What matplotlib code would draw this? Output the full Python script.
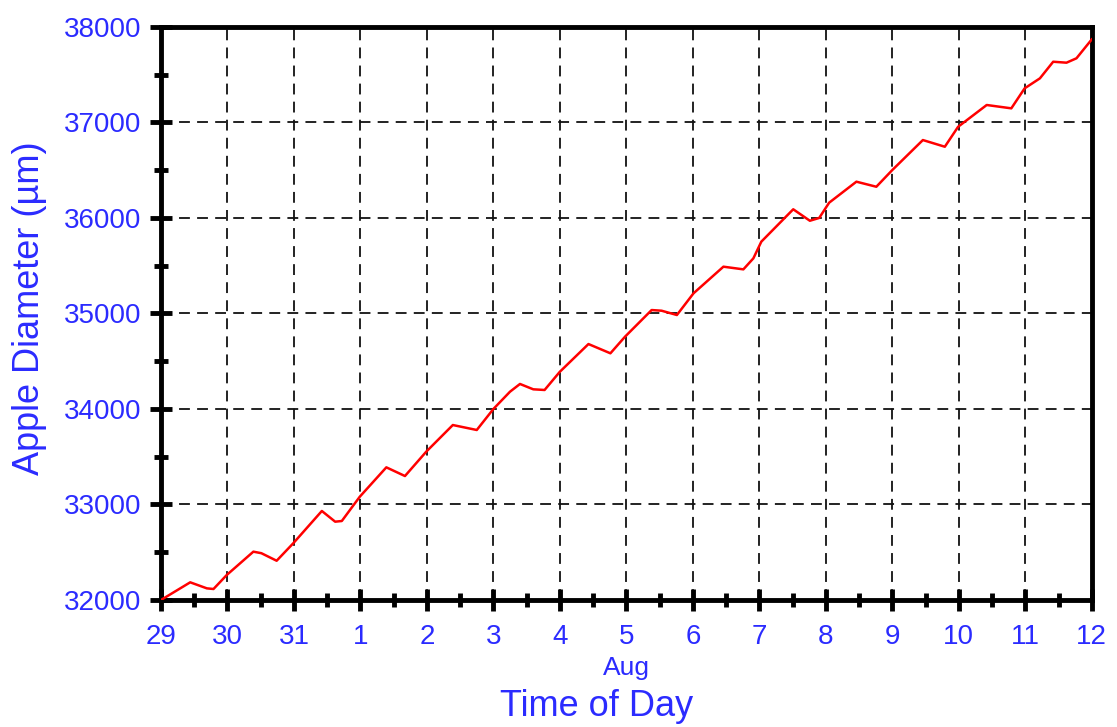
import matplotlib
matplotlib.use("Agg")
import matplotlib.pyplot as plt
from matplotlib.ticker import MultipleLocator

plt.rcParams['font.family'] = ['Liberation Sans', 'DejaVu Sans']

# days counted from 29 Jul (0) to 12 Aug (14)
day_labels = ['29', '30', '31', '1', '2', '3', '4', '5', '6', '7', '8', '9', '10', '11', '12']

t = [0.0, 0.44, 0.69, 0.79, 0.99,
     1.39, 1.51, 1.74, 1.99,
     2.42, 2.62, 2.72, 2.99,
     3.39, 3.67, 3.99,
     4.39, 4.75, 5.0, 5.25,
     5.40, 5.60, 5.77, 6.0,
     6.43, 6.76, 6.98,
     7.38, 7.53, 7.76, 8.01,
     8.46, 8.76, 8.91, 9.03,
     9.51, 9.76, 9.9, 10.05,
     10.46, 10.76, 11.0,
     11.46, 11.79, 11.99,
     12.42, 12.79, 12.99, 13.22,
     13.42, 13.62, 13.77, 14.0]
diam = [32000, 32185, 32122, 32115, 32262,
        32506, 32490, 32411, 32594,
        32932, 32820, 32827, 33081,
        33389, 33298, 33553,
        33832, 33780, 34000, 34181,
        34262, 34206, 34199, 34390,
        34680, 34583, 34757,
        35036, 35029, 34984, 35211,
        35490, 35462, 35577, 35752,
        36091, 35971, 36000, 36160,
        36380, 36327, 36502,
        36816, 36746, 36955,
        37183, 37148, 37357, 37462,
        37636, 37626, 37672, 37870]

blue = '#2b2bff'

fig = plt.figure(figsize=(11.17, 7.27), dpi=100)
ax = fig.add_axes([0.1441, 0.1747, 0.8333, 0.7882])

ax.plot(t, diam, color='red', lw=1.8, solid_joinstyle='round', zorder=3)

ax.set_xlim(0, 14)
ax.set_ylim(32000, 38000)
ax.xaxis.set_minor_locator(MultipleLocator(0.5))
ax.yaxis.set_major_locator(MultipleLocator(1000))
ax.yaxis.set_minor_locator(MultipleLocator(500))
ax.set_xticks(range(15))
ax.set_xticklabels(day_labels)

ax.grid(True, which='major', color='#111111', linestyle=(0, (6, 4)), lw=1.3)

for s in ax.spines.values():
    s.set_linewidth(3.5)

ax.tick_params(which='major', direction='inout', length=16, width=3.5,
               labelsize=20, labelcolor=blue)
ax.tick_params(axis='x', which='major', pad=9)
ax.tick_params(axis='y', which='major', pad=6)
ax.tick_params(which='minor', direction='inout', length=10, width=3.5)
ax.tick_params(top=False, right=False, which='both')

# "Aug" sits under the 5 Aug tick
aug_x = day_labels.index('5')
fig.text(ax.transData.transform((aug_x, 0))[0] / fig.bbox.width, 1 - 668 / 727, 'Aug',
         ha='center', va='center', color=blue, fontsize=19)
fig.text(597 / 1117, 1 - 706 / 727, 'Time of Day', ha='center', va='center',
         color=blue, fontsize=26)
fig.text(30 / 1117, 1 - 308 / 727, 'Apple Diameter (µm)', ha='center', va='center',
         rotation=90, color=blue, fontsize=26)

fig.savefig('out.png', dpi=100)
